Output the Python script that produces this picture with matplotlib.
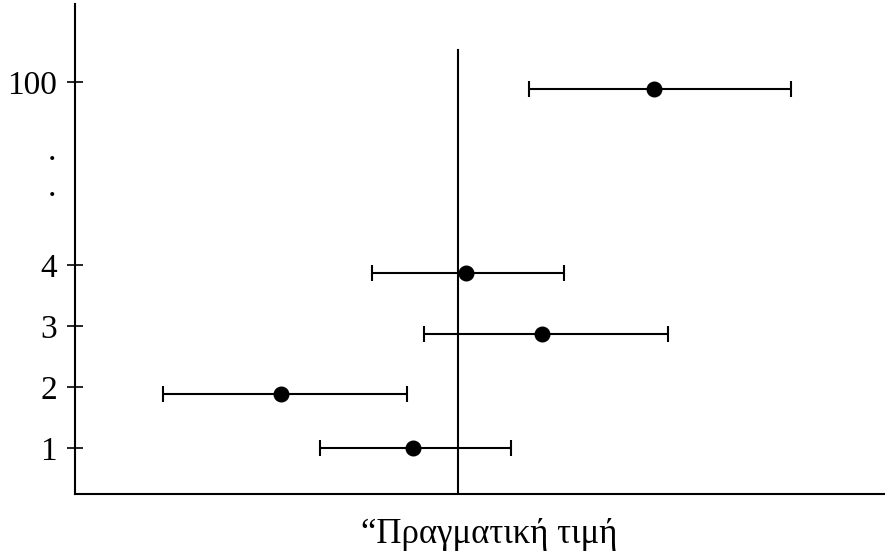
'''
Confidence intervals around a true value (vertical line): samples 1..4 and 100.
'''
import matplotlib.pyplot as plt
from matplotlib.transforms import blended_transform_factory

plt.rcParams['font.family'] = ['Liberation Serif', 'DejaVu Serif']

# sample rows and their estimates / interval bounds (true value at 0)
rows = [1.0, 1.89, 2.87, 3.87, 6.89]
est = [-0.45, -1.77, 0.84, 0.08, 1.96]
low = [-1.38, -2.95, -0.34, -0.86, 0.71]
high = [0.53, -0.51, 2.10, 1.06, 3.33]

tick_pos = [1, 2, 3, 4, 7]
tick_labels = ['1', '2', '3', '4', '100']
dot_pos = [5.73, 5.14]
TRUE_VALUE = 0.0
xlabel = '\u201cΠραγματική τιμή'

fig = plt.figure(figsize=(8.85, 5.52), dpi=100)
ax = fig.add_axes([75 / 885, 58 / 552, 810 / 885, 490 / 552])

err = [[e - l for e, l in zip(est, low)], [h - e for e, h in zip(est, high)]]
ax.errorbar(est, rows, xerr=err, fmt='o', color='black', ms=10.5,
            elinewidth=1.5, capsize=5.5, capthick=1.5)

ax.plot([TRUE_VALUE, TRUE_VALUE], [0.246, 7.52], color='black', lw=1.5)

ax.set_xlim(-3.83, 4.27)
ax.set_ylim(0.246, 8.28)
ax.set_xticks([])
ax.set_yticks(tick_pos)
ax.set_yticklabels(tick_labels)
ax.tick_params(axis='y', direction='inout', length=11, width=1.2,
               labelsize=24, pad=7.5)
for s in ['top', 'right']:
    ax.spines[s].set_visible(False)
for s in ['left', 'bottom']:
    ax.spines[s].set_linewidth(1.5)

trans = blended_transform_factory(ax.transAxes, ax.transData)
for y in dot_pos:
    ax.text(-0.028, y, '.', transform=trans, fontsize=24, ha='center',
            va='baseline')

fig.text(0.553, 0.016, xlabel, fontsize=25, ha='center', va='baseline')

plt.savefig('out.png', dpi=100)
plt.close()
